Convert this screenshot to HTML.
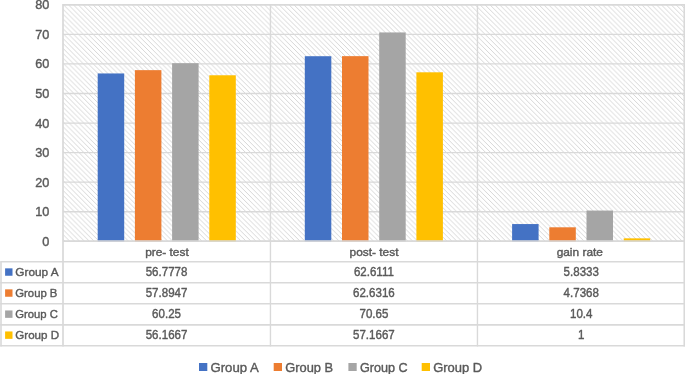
<!DOCTYPE html>
<html><head><meta charset="utf-8"><title>chart</title><style>html,body{margin:0;padding:0;background:#fff;width:685px;height:374px;overflow:hidden;font-family:"Liberation Sans",sans-serif}</style></head><body>
<svg width="685" height="374" viewBox="0 0 685 374" style="position:absolute;left:0;top:0;display:block" font-family="Liberation Sans, sans-serif">
<defs><pattern id="h" width="4.9" height="4.9" patternUnits="userSpaceOnUse"><rect width="4.9" height="4.9" fill="#fff"/><path d="M-1.225,-1.225 L6.125,6.125 M-1.225,3.675 L1.225,6.125 M3.675,-1.225 L6.125,1.225" stroke="#C9C9C9" stroke-width="0.75"/></pattern><filter id="f" x="0" y="0" width="685" height="374" filterUnits="userSpaceOnUse" color-interpolation-filters="sRGB"><feOffset dx="0" dy="0"/></filter></defs>
<rect x="0" y="0" width="685" height="374" fill="#fff"/>
<rect x="63.0" y="4.8" width="621.2" height="236.5" fill="url(#h)"/>
<line x1="63.0" y1="241.30" x2="685" y2="241.30" stroke="#D9D9D9" stroke-width="1.35"/>
<line x1="63.0" y1="211.74" x2="685" y2="211.74" stroke="#D9D9D9" stroke-width="1.35"/>
<line x1="63.0" y1="182.18" x2="685" y2="182.18" stroke="#D9D9D9" stroke-width="1.35"/>
<line x1="63.0" y1="152.61" x2="685" y2="152.61" stroke="#D9D9D9" stroke-width="1.35"/>
<line x1="63.0" y1="123.05" x2="685" y2="123.05" stroke="#D9D9D9" stroke-width="1.35"/>
<line x1="63.0" y1="93.49" x2="685" y2="93.49" stroke="#D9D9D9" stroke-width="1.35"/>
<line x1="63.0" y1="63.93" x2="685" y2="63.93" stroke="#D9D9D9" stroke-width="1.35"/>
<line x1="63.0" y1="34.36" x2="685" y2="34.36" stroke="#D9D9D9" stroke-width="1.35"/>
<line x1="63.0" y1="4.80" x2="685" y2="4.80" stroke="#D9D9D9" stroke-width="1.7"/>
<line x1="63.00" y1="4.0" x2="63.00" y2="346.6" stroke="#D9D9D9" stroke-width="1.7"/>
<line x1="270.45" y1="4.0" x2="270.45" y2="346.6" stroke="#D9D9D9" stroke-width="1.4"/>
<line x1="477.45" y1="4.0" x2="477.45" y2="346.6" stroke="#D9D9D9" stroke-width="1.4"/>
<line x1="684.30" y1="4.0" x2="684.30" y2="346.6" stroke="#D9D9D9" stroke-width="1.7"/>
<line x1="0.2" y1="261.8" x2="685" y2="261.8" stroke="#D9D9D9" stroke-width="1.6"/>
<line x1="0.2" y1="282.7" x2="685" y2="282.7" stroke="#D9D9D9" stroke-width="1.6"/>
<line x1="0.2" y1="303.8" x2="685" y2="303.8" stroke="#D9D9D9" stroke-width="1.6"/>
<line x1="0.2" y1="324.9" x2="685" y2="324.9" stroke="#D9D9D9" stroke-width="1.6"/>
<line x1="0.2" y1="345.8" x2="685" y2="345.8" stroke="#D9D9D9" stroke-width="1.6"/>
<line x1="1" y1="261.8" x2="1" y2="346.6" stroke="#D9D9D9" stroke-width="1.6"/>
<rect x="97.70" y="73.45" width="26.5" height="167.85" fill="#4472C4"/>
<rect x="134.90" y="70.15" width="26.5" height="171.15" fill="#ED7D31"/>
<rect x="172.10" y="63.19" width="26.5" height="178.11" fill="#A5A5A5"/>
<rect x="209.30" y="75.26" width="26.5" height="166.04" fill="#FFC000"/>
<rect x="304.80" y="56.21" width="26.5" height="185.09" fill="#4472C4"/>
<rect x="342.00" y="56.15" width="26.5" height="185.15" fill="#ED7D31"/>
<rect x="379.20" y="32.44" width="26.5" height="208.86" fill="#A5A5A5"/>
<rect x="416.40" y="72.30" width="26.5" height="169.00" fill="#FFC000"/>
<rect x="512.10" y="224.06" width="26.5" height="17.24" fill="#4472C4"/>
<rect x="549.30" y="227.30" width="26.5" height="14.00" fill="#ED7D31"/>
<rect x="586.50" y="210.56" width="26.5" height="30.74" fill="#A5A5A5"/>
<rect x="623.70" y="238.34" width="26.5" height="2.96" fill="#FFC000"/>
<line x1="63.0" y1="241.10" x2="685" y2="241.10" stroke="#D9D9D9" stroke-width="1.5"/>
<rect x="5.1" y="268.35" width="7.4" height="7.4" fill="#4472C4"/>
<rect x="5.1" y="289.35" width="7.4" height="7.4" fill="#ED7D31"/>
<rect x="5.1" y="310.45" width="7.4" height="7.4" fill="#A5A5A5"/>
<rect x="5.1" y="331.45" width="7.4" height="7.4" fill="#FFC000"/>
<rect x="199.00" y="363" width="8.3" height="8.0" fill="#4472C4"/>
<rect x="273.70" y="363" width="8.3" height="8.0" fill="#ED7D31"/>
<rect x="348.40" y="363" width="8.3" height="8.0" fill="#A5A5A5"/>
<rect x="421.70" y="363" width="8.3" height="8.0" fill="#FFC000"/>
<g filter="url(#f)" fill="#595959" stroke="#595959" stroke-width="0.4" stroke-linejoin="round">
<text transform="translate(49.40 245.80) scale(0.955 1)" font-size="13.3" text-anchor="end">0</text>
<text transform="translate(49.40 216.24) scale(0.955 1)" font-size="13.3" text-anchor="end">10</text>
<text transform="translate(49.40 186.68) scale(0.955 1)" font-size="13.3" text-anchor="end">20</text>
<text transform="translate(49.40 157.11) scale(0.955 1)" font-size="13.3" text-anchor="end">30</text>
<text transform="translate(49.40 127.55) scale(0.955 1)" font-size="13.3" text-anchor="end">40</text>
<text transform="translate(49.40 97.99) scale(0.955 1)" font-size="13.3" text-anchor="end">50</text>
<text transform="translate(49.40 68.43) scale(0.955 1)" font-size="13.3" text-anchor="end">60</text>
<text transform="translate(49.40 38.86) scale(0.955 1)" font-size="13.3" text-anchor="end">70</text>
<text transform="translate(49.40 9.30) scale(0.955 1)" font-size="13.3" text-anchor="end">80</text>
<text transform="translate(166.93 255.50) scale(1.035 1)" font-size="11.5" text-anchor="middle">pre- test</text>
<text transform="translate(166.53 276.25) scale(0.97 1)" font-size="11.9" text-anchor="middle">56.7778</text>
<text transform="translate(166.53 297.25) scale(0.97 1)" font-size="11.9" text-anchor="middle">57.8947</text>
<text transform="translate(166.53 318.35) scale(0.97 1)" font-size="11.9" text-anchor="middle">60.25</text>
<text transform="translate(166.53 339.35) scale(0.97 1)" font-size="11.9" text-anchor="middle">56.1667</text>
<text transform="translate(374.00 255.50) scale(1.035 1)" font-size="11.5" text-anchor="middle">post- test</text>
<text transform="translate(373.90 276.25) scale(0.97 1)" font-size="11.9" text-anchor="middle">62.6111</text>
<text transform="translate(373.90 297.25) scale(0.97 1)" font-size="11.9" text-anchor="middle">62.6316</text>
<text transform="translate(373.90 318.35) scale(0.97 1)" font-size="11.9" text-anchor="middle">70.65</text>
<text transform="translate(373.90 339.35) scale(0.97 1)" font-size="11.9" text-anchor="middle">57.1667</text>
<text transform="translate(579.77 255.50) scale(1.035 1)" font-size="11.5" text-anchor="middle">gain rate</text>
<text transform="translate(581.27 276.25) scale(0.97 1)" font-size="11.9" text-anchor="middle">5.8333</text>
<text transform="translate(581.27 297.25) scale(0.97 1)" font-size="11.9" text-anchor="middle">4.7368</text>
<text transform="translate(581.27 318.35) scale(0.97 1)" font-size="11.9" text-anchor="middle">10.4</text>
<text transform="translate(581.27 339.35) scale(0.97 1)" font-size="11.9" text-anchor="middle">1</text>
<text x="15.30" y="275.85" font-size="11.8">Group A</text>
<text transform="translate(15.30 296.85) scale(0.96 1)" font-size="11.8">Group B</text>
<text transform="translate(15.30 317.95) scale(0.957 1)" font-size="11.8">Group C</text>
<text transform="translate(15.30 338.95) scale(0.983 1)" font-size="11.8">Group D</text>
<text transform="translate(210.50 371.50) scale(0.99 1)" font-size="13.3">Group A</text>
<text transform="translate(285.20 371.50) scale(0.967 1)" font-size="13.3">Group B</text>
<text transform="translate(359.90 371.50) scale(0.95 1)" font-size="13.3">Group C</text>
<text transform="translate(433.20 371.50) scale(0.977 1)" font-size="13.3">Group D</text>
</g>
</svg>
</body></html>
